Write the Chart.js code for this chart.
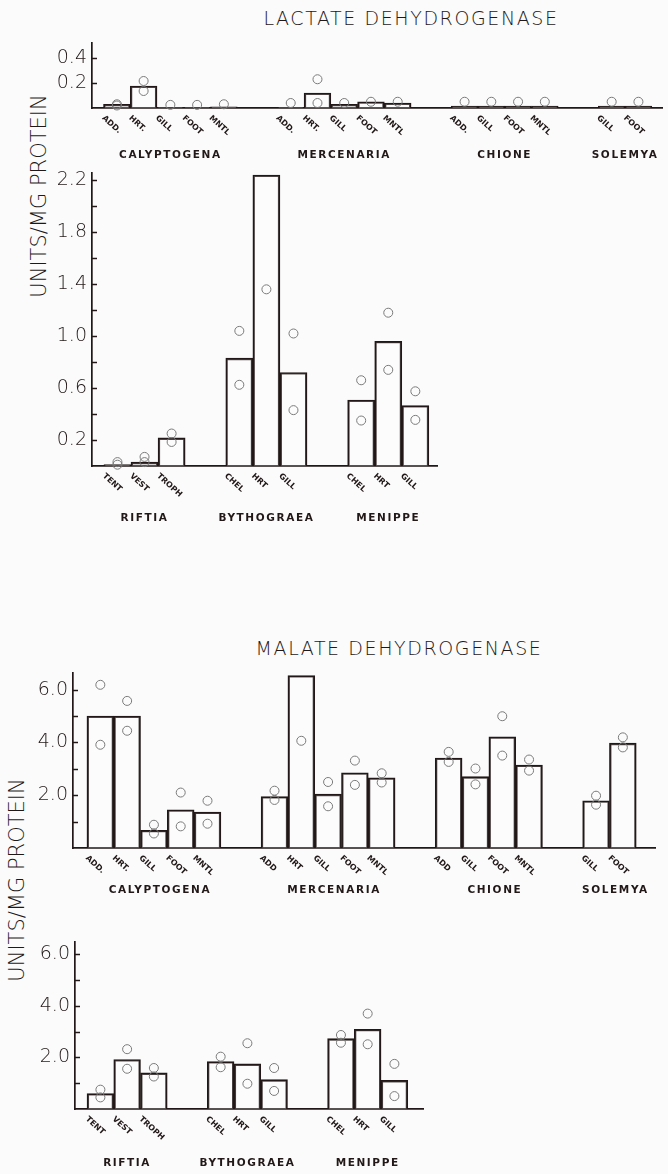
<!DOCTYPE html>
<html>
<head>
<meta charset="utf-8">
<script src="https://cdn.jsdelivr.net/npm/chart.js@4.4.1/dist/chart.umd.min.js"></script>
<style>
  html, body { margin: 0; padding: 0; background: #fbfbfb; }
  #page { position: relative; width: 668px; height: 1174px; overflow: hidden; background: #fbfbfb;
          font-family: "DejaVu Sans", sans-serif; color: #1e1818; }
  canvas.panel { position: absolute; left: 0; }
  .title { position: absolute; white-space: nowrap; font-size: 19px; font-weight: 200; letter-spacing: 1.6px;
           transform: translate(-50%, -50%); }
  .ytitle { position: absolute; white-space: nowrap; font-size: 21px; font-weight: 200;
            transform: translate(-50%, -50%) rotate(-90deg); }
</style>
</head>
<body>
<div id="page">
  <div class="title" style="left:411px; top:18px;">LACTATE DEHYDROGENASE</div>
  <div class="ytitle" style="left:39px; top:196px;">UNITS/MG PROTEIN</div>
  <div class="title" style="left:399px; top:648px;">MALATE DEHYDROGENASE</div>
  <div class="ytitle" style="left:17px; top:880px;">UNITS/MG PROTEIN</div>
  <canvas class="panel" id="ldhBivalves"></canvas>
  <canvas class="panel" id="ldhOthers"></canvas>
  <canvas class="panel" id="mdhBivalves"></canvas>
  <canvas class="panel" id="mdhOthers"></canvas>
</div>
<script>
// ---- Lactate dehydrogenase: bivalves ----
const ldhBivalveGroups  = ['CALYPTOGENA', 'MERCENARIA', 'CHIONE', 'SOLEMYA'];
const ldhBivalveTissues = [['ADD.', 'HRT.', 'GILL', 'FOOT', 'MNTL'],
                           ['ADD.', 'HRT.', 'GILL', 'FOOT', 'MNTL'],
                           ['ADD.', 'GILL', 'FOOT', 'MNTL'],
                           ['GILL', 'FOOT']];
const ldhBivalveMeans   = [[0.03, 0.176, 0.005, 0.005, 0.01],
                           [0.005, 0.12, 0.03, 0.05, 0.04],
                           [0.015, 0.015, 0.015, 0.015],
                           [0.015, 0.015]];
const ldhBivalveRep1    = [[0.03, 0.216, 0.025, 0.025, 0.03],
                           [0.04, 0.23, 0.04, 0.05, 0.05],
                           [0.05, 0.05, 0.05, 0.05],
                           [0.05, 0.05]];
const ldhBivalveRep2    = [[0.02, 0.136, null, null, null],
                           [null, 0.04, null, null, null],
                           [null, null, null, null],
                           [null, null]];
const ldhBivalveTickValues = [0.2, 0.4];
const ldhBivalveTickLabels = ['0.2', '0.4'];

// ---- Lactate dehydrogenase: vent worm and crabs ----
const ldhOtherGroups  = ['RIFTIA', 'BYTHOGRAEA', 'MENIPPE'];
const ldhOtherTissues = [['TENT', 'VEST', 'TROPH'], ['CHEL', 'HRT', 'GILL'], ['CHEL', 'HRT', 'GILL']];
const ldhOtherMeans   = [[0.01, 0.03, 0.216], [0.83, 2.24, 0.72], [0.508, 0.96, 0.465]];
const ldhOtherRep1    = [[0.03, 0.07, 0.25], [1.04, 1.36, 1.02], [0.66, 1.18, 0.575]];
const ldhOtherRep2    = [[0.01, 0.03, 0.185], [0.625, null, 0.43], [0.35, 0.74, 0.355]];
const ldhOtherTickValues = [0.2, 0.4, 0.6, 0.8, 1.0, 1.2, 1.4, 1.6, 1.8, 2.0, 2.2];
const ldhOtherTickLabels = ['0.2', '', '0.6', '', '1.0', '', '1.4', '', '1.8', '', '2.2'];

// ---- Malate dehydrogenase: bivalves ----
const mdhBivalveGroups  = ['CALYPTOGENA', 'MERCENARIA', 'CHIONE', 'SOLEMYA'];
const mdhBivalveTissues = [['ADD.', 'HRT.', 'GILL', 'FOOT', 'MNTL'],
                           ['ADD', 'HRT', 'GILL', 'FOOT', 'MNTL'],
                           ['ADD', 'GILL', 'FOOT', 'MNTL'],
                           ['GILL', 'FOOT']];
const mdhBivalveMeans   = [[5.0, 5.0, 0.67, 1.45, 1.36],
                           [1.95, 6.53, 2.04, 2.85, 2.66],
                           [3.41, 2.70, 4.21, 3.14],
                           [1.79, 3.97]];
const mdhBivalveRep1    = [[6.18, 5.57, 0.88, 2.1, 1.79],
                           [2.17, 4.06, 2.5, 3.31, 2.83],
                           [3.64, 3.01, 4.99, 3.35],
                           [1.98, 4.19]];
const mdhBivalveRep2    = [[3.91, 4.44, 0.55, 0.82, 0.92],
                           [1.82, null, 1.58, 2.39, 2.48],
                           [3.26, 2.41, 3.50, 2.93],
                           [1.64, 3.81]];
const mdhTickValues = [1, 2, 3, 4, 5, 6];
const mdhTickLabels = ['', '2.0', '', '4.0', '', '6.0'];

// ---- Malate dehydrogenase: vent worm and crabs ----
const mdhOtherGroups  = ['RIFTIA', 'BYTHOGRAEA', 'MENIPPE'];
const mdhOtherTissues = [['TENT', 'VEST', 'TROPH'], ['CHEL', 'HRT', 'GILL'], ['CHEL', 'HRT', 'GILL']];
const mdhOtherMeans   = [[0.6, 1.92, 1.40], [1.84, 1.75, 1.14], [2.73, 3.09, 1.11]];
const mdhOtherRep1    = [[0.75, 2.32, 1.59], [2.03, 2.55, 1.59], [2.87, 3.70, 1.75]];
const mdhOtherRep2    = [[0.45, 1.56, 1.26], [1.62, 0.98, 0.70], [2.57, 2.51, 0.50]];

// ---- drawing ----
const INK = '#221818';
const CIRCLE = '#7a7a7a';
const FONT = '"DejaVu Sans", sans-serif';
const GROUP_GAP = 1.5;   // empty bar slots between species groups

// x position (in bar slots) of every tissue, group by group
function slotPositions(tissues) {
  let x = 0;
  return tissues.map((g, gi) => {
    if (gi > 0) x += GROUP_GAP;
    return g.map(() => x++);
  });
}

function points(pos, values) {
  const out = [];
  pos.forEach((g, gi) => g.forEach((x, ti) => {
    const v = values[gi][ti];
    if (v !== null && v !== undefined) out.push({ x: x, y: v });
  }));
  return out;
}

const panelDecor = {
  id: 'panelDecor',
  afterDatasetsDraw(chart) {
    const cfg = chart.options.plugins.panelDecor;
    const { ctx, scales: { x, y } } = chart;
    const left = chart.chartArea.left, base = chart.chartArea.bottom;
    ctx.save();
    // inward tick marks on the value axis
    ctx.strokeStyle = INK;
    ctx.lineWidth = 1.5;
    y.ticks.forEach(t => {
      const py = Math.round(y.getPixelForValue(t.value)) + 0.5;
      ctx.beginPath();
      ctx.moveTo(left, py);
      ctx.lineTo(left + 5, py);
      ctx.stroke();
    });
    // slanted tissue names
    ctx.fillStyle = INK;
    ctx.font = 'bold 8px ' + FONT;
    ctx.textAlign = 'left';
    ctx.textBaseline = 'top';
    cfg.pos.forEach((g, gi) => g.forEach((p, ti) => {
      const px = x.getPixelForValue(p);
      ctx.save();
      ctx.translate(px - 11, base + 6);
      ctx.rotate(0.74);
      ctx.fillText(cfg.tissues[gi][ti], 0, 0);
      ctx.restore();
    }));
    // species names
    ctx.font = 'bold 10.5px ' + FONT;
    ctx.letterSpacing = '1.6px';
    ctx.textAlign = 'center';
    ctx.textBaseline = 'middle';
    cfg.pos.forEach((g, gi) => {
      const cx = (x.getPixelForValue(g[0]) + x.getPixelForValue(g[g.length - 1])) / 2 + cfg.labelDx;
      ctx.fillText(cfg.groups[gi], cx, base + cfg.labelDy);
    });
    ctx.restore();
  }
};

function makePanel(id, s) {
  const canvas = document.getElementById(id);
  canvas.width = 668; canvas.height = s.height;
  canvas.style.top = s.top + 'px';
  canvas.style.width = '668px'; canvas.style.height = s.height + 'px';
  const pos = slotPositions(s.tissues);
  const circleSet = (vals) => ({
    type: 'scatter', data: points(pos, vals), order: 1, clip: false,
    pointStyle: 'circle', pointRadius: 4.5, pointBorderWidth: 1,
    pointBorderColor: CIRCLE, pointBackgroundColor: 'rgba(0,0,0,0)'
  });
  return new Chart(canvas, {
    type: 'bar',
    data: {
      datasets: [
        { type: 'bar', data: points(pos, s.means), order: 2,
          backgroundColor: 'rgba(255,255,255,0.25)', borderColor: INK, borderWidth: 1.7,
          barPercentage: 1, categoryPercentage: 1 },
        circleSet(s.rep1),
        circleSet(s.rep2)
      ]
    },
    plugins: [panelDecor],
    options: {
      responsive: false, animation: false, events: [],
      layout: { padding: { top: s.plotTop - s.top, right: 668 - s.right, left: 0, bottom: 0 } },
      plugins: {
        legend: { display: false }, tooltip: { enabled: false },
        panelDecor: { pos: pos, tissues: s.tissues, groups: s.groups, labelDx: s.labelDx, labelDy: s.labelDy }
      },
      scales: {
        x: {
          type: 'linear', min: s.xMin, max: s.xMax,
          grid: { display: false, drawTicks: false }, ticks: { display: false },
          border: { display: true, color: INK, width: 1.7 },
          afterBuildTicks: sc => { sc.ticks = []; },
          afterFit: sc => { sc.height = s.top + s.height - s.baseline; }
        },
        y: {
          min: 0, max: s.yMax,
          grid: { display: false, drawTicks: false },
          border: { display: true, color: INK, width: 1.7 },
          afterBuildTicks: sc => { sc.ticks = s.tickValues.map(v => ({ value: v })); },
          ticks: { autoSkip: false, padding: 5, color: INK,
                   font: { family: FONT, size: 19, weight: 200 },
                   callback: (v, i) => s.tickLabels[i] },
          afterFit: sc => { sc.width = s.axisX; }
        }
      }
    }
  });
}

makePanel('ldhBivalves', {
  top: 0, height: 172, plotTop: 43, baseline: 108, axisX: 92, right: 668,
  xMin: -0.93, xMax: 20.4, yMax: 0.52,
  tickValues: ldhBivalveTickValues, tickLabels: ldhBivalveTickLabels,
  groups: ldhBivalveGroups, tissues: ldhBivalveTissues,
  means: ldhBivalveMeans, rep1: ldhBivalveRep1, rep2: ldhBivalveRep2,
  labelDx: 0, labelDy: 47
});
makePanel('ldhOthers', {
  top: 156, height: 384, plotTop: 170, baseline: 466, axisX: 92, right: 437,
  xMin: -0.94, xMax: 11.8, yMax: 2.26,
  tickValues: ldhOtherTickValues, tickLabels: ldhOtherTickLabels,
  groups: ldhOtherGroups, tissues: ldhOtherTissues,
  means: ldhOtherMeans, rep1: ldhOtherRep1, rep2: ldhOtherRep2,
  labelDx: 0, labelDy: 52
});
makePanel('mdhBivalves', {
  top: 656, height: 244, plotTop: 670, baseline: 848, axisX: 73, right: 655,
  xMin: -1.02, xMax: 20.7, yMax: 6.65,
  tickValues: mdhTickValues, tickLabels: mdhTickLabels,
  groups: mdhBivalveGroups, tissues: mdhBivalveTissues,
  means: mdhBivalveMeans, rep1: mdhBivalveRep1, rep2: mdhBivalveRep2,
  labelDx: 6, labelDy: 42
});
makePanel('mdhOthers', {
  top: 925, height: 249, plotTop: 939, baseline: 1109, axisX: 75, right: 423,
  xMin: -0.95, xMax: 12.07, yMax: 6.5,
  tickValues: mdhTickValues, tickLabels: mdhTickLabels,
  groups: mdhOtherGroups, tissues: mdhOtherTissues,
  means: mdhOtherMeans, rep1: mdhOtherRep1, rep2: mdhOtherRep2,
  labelDx: 0, labelDy: 54
});
</script>
</body>
</html>
